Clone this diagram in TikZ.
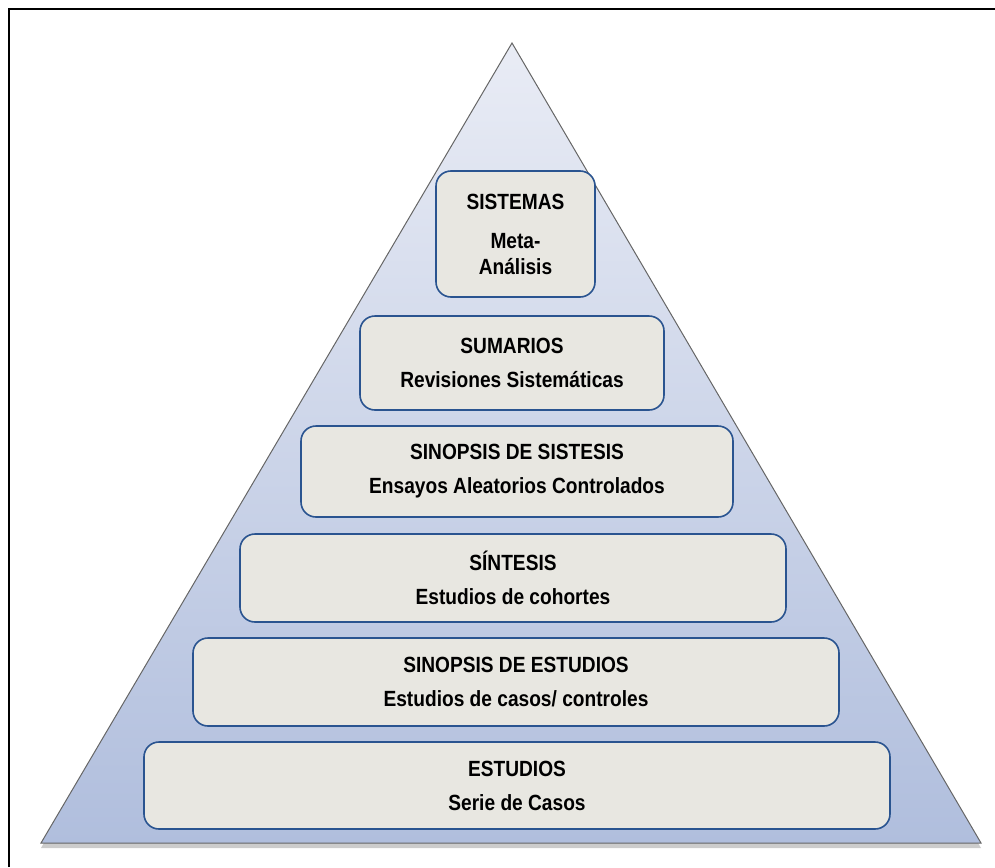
\documentclass[tikz,border=0pt]{standalone}
\usepackage{fontspec}
\setmainfont{Liberation Sans}[FakeStretch=0.87]
\definecolor{boxblue}{HTML}{2A5490}
\definecolor{boxgray}{HTML}{E8E7E1}
\definecolor{pyrtop}{HTML}{E9ECF5}
\definecolor{pyrbot}{HTML}{B0BEDD}
\tikzset{level/.style={draw=boxblue,fill=boxgray,line width=0.8pt,rounded corners=7.5pt,align=center,inner sep=0pt,font=\bfseries\fontsize{11}{13}\selectfont}}
\tikzset{frame/.style={line width=1pt,black}}

\begin{document}
\begin{tikzpicture}[x=0.5pt,y=-0.5pt]
    \useasboundingbox (0,0) rectangle (995,867);
    \draw[frame] (9,867) -- (9,9) -- (995,9);
    % pyramid
    \coordinate (apex) at (512,43);
    \coordinate (bl) at (41,843);
    \coordinate (br) at (981,843);
    \fill[black,opacity=0.2] ([yshift=-2.5pt]bl) -- ([yshift=-2.5pt]br) -- (apex) -- cycle;
    \shade[top color=pyrtop,bottom color=pyrbot,draw=gray!80!black,line width=0.5pt] (apex) -- (br) -- (bl) -- cycle;
    % levels
    \node[level,minimum width=79.5pt,minimum height=63pt] (sis) at (515.5,234) {SISTEMAS\\[6.5pt]Meta-\\Análisis};
    \node[level,minimum width=152pt,minimum height=47pt] (sum) at (512,363) {SUMARIOS\\[4pt]Revisiones Sistemáticas};
    \node[level,minimum width=216pt,minimum height=45.5pt] (sin) at (517,471.5) {SINOPSIS DE SISTESIS\\[4pt]Ensayos Aleatorios Controlados};
    \node[level,minimum width=273pt,minimum height=44pt] (snt) at (513,578) {SÍNTESIS\\[4pt]Estudios de cohortes};
    \node[level,minimum width=323pt,minimum height=44pt] (sne) at (516,682) {SINOPSIS DE ESTUDIOS\\[4pt]Estudios de casos/ controles};
    \node[level,minimum width=373pt,minimum height=43.5pt] (est) at (517,785.5) {ESTUDIOS\\[4pt]Serie de Casos};
\end{tikzpicture}
\end{document}
